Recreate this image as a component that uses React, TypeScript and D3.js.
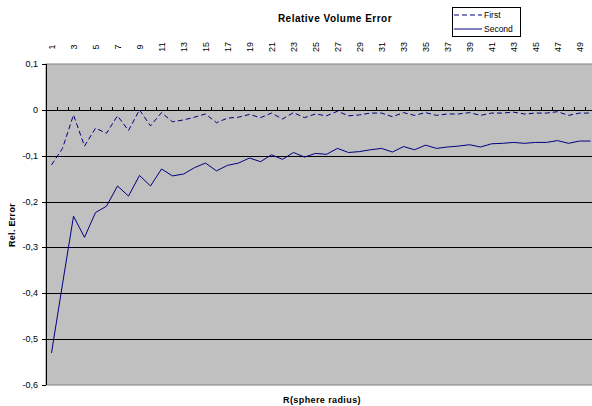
import React from "react";
import * as d3 from "d3";

const categories: number[] = d3.range(1, 51);
const firstValues: number[] = [
  -0.12, -0.084, -0.011, -0.079, -0.04, -0.051, -0.013, -0.045, 0.0, -0.035,
  -0.006, -0.026, -0.022, -0.016, -0.009, -0.028, -0.018, -0.016, -0.01, -0.017,
  -0.007, -0.02, -0.006, -0.017, -0.009, -0.013, -0.003, -0.013, -0.011, -0.007,
  -0.007, -0.015, -0.006, -0.012, -0.006, -0.012, -0.009, -0.009, -0.006, -0.012,
  -0.007, -0.007, -0.005, -0.009, -0.007, -0.007, -0.004, -0.012, -0.007, -0.007,
];
const secondValues: number[] = [
  -0.53, -0.38, -0.232, -0.278, -0.224, -0.21, -0.166, -0.188, -0.143, -0.166,
  -0.129, -0.144, -0.14, -0.126, -0.116, -0.133, -0.121, -0.116, -0.105, -0.113,
  -0.098, -0.108, -0.093, -0.103, -0.095, -0.097, -0.084, -0.093, -0.091, -0.087,
  -0.084, -0.092, -0.08, -0.087, -0.077, -0.084, -0.081, -0.079, -0.076, -0.081,
  -0.074, -0.073, -0.071, -0.073, -0.071, -0.071, -0.067, -0.073, -0.068, -0.068,
];
const yTicks: number[] = [0.1, 0, -0.1, -0.2, -0.3, -0.4, -0.5, -0.6];
const seriesNames: string[] = ["First", "Second"];

const W = 592;
const H = 406;
const left = 46;
const right = 596;
const top = 64;
const bottom = 385;
const font = "Liberation Sans, Arial, sans-serif";
const navy = "#000080";

export default function App() {
  const x = d3.scaleBand<number>().domain(categories).range([left, right]).padding(0);
  const y = d3.scaleLinear().domain([-0.6, 0.1]).range([bottom, top]);
  const cx = (c: number) => (x(c) as number) + x.bandwidth() / 2;
  const line = d3
    .line<number>()
    .x((_, i) => cx(categories[i]))
    .y((v) => y(v));
  const fmt = (v: number) => (v === 0 ? "0" : d3.format(".1f")(v).replace(".", ",").replace("−", "-"));
  const y0 = y(0);

  return (
    <svg width={W} height={H} style={{ position: "absolute", left: 0, top: 0, display: "block" }}>
      <rect x={0} y={0} width={W} height={H} fill="#fff" />
      <rect x={left} y={top} width={right - left} height={bottom - top} fill="#C0C0C0" stroke="#808080" strokeWidth={1} />
      {yTicks
        .filter((t) => t < 0.1 && t > -0.6 && t !== 0)
        .map((t) => (
          <line key={"g" + t} x1={left} x2={right} y1={Math.round(y(t)) + 0.5} y2={Math.round(y(t)) + 0.5} stroke="#000" strokeWidth={1} />
        ))}
      {/* y axis */}
      <line x1={left + 0.5} x2={left + 0.5} y1={top} y2={bottom} stroke="#000" strokeWidth={1} />
      {yTicks.map((t) => (
        <g key={"yt" + t}>
          <line x1={left - 4} x2={left} y1={Math.round(y(t)) + 0.5} y2={Math.round(y(t)) + 0.5} stroke="#000" />
          <text x={38} y={y(t)} textAnchor="end" dominantBaseline="central" fontFamily={font} fontSize={9} fill="#000">
            {fmt(t)}
          </text>
        </g>
      ))}
      {/* category axis at 0 */}
      <line x1={left} x2={right} y1={Math.round(y0) + 0.5} y2={Math.round(y0) + 0.5} stroke="#000" strokeWidth={1} />
      {categories.map((c) => (
        <line key={"xt" + c} x1={(x(c) as number) + x.bandwidth() + 0.5} x2={(x(c) as number) + x.bandwidth() + 0.5} y1={Math.round(y0) - 3} y2={Math.round(y0)} stroke="#000" strokeWidth={1} />
      ))}
      {categories
        .filter((c) => c % 2 === 1)
        .map((c) => (
          <text
            key={"xl" + c}
            transform={`translate(${cx(c) + 0.5},47) rotate(-90)`}
            textAnchor="middle"
            dominantBaseline="central"
            fontFamily={font}
            fontSize={9}
            fill="#000"
          >
            {c}
          </text>
        ))}
      {/* series */}
      <path d={line(firstValues) || ""} fill="none" stroke={navy} strokeWidth={1} strokeDasharray="5,3" />
      <path d={line(secondValues) || ""} fill="none" stroke={navy} strokeWidth={1} />
      {/* titles */}
      <text x={335} y={22} textAnchor="middle" fontFamily={font} fontSize={10} fontWeight="bold" letterSpacing={0.5}>
        Relative Volume Error
      </text>
      <text x={322} y={403} textAnchor="middle" fontFamily={font} fontSize={9} fontWeight="bold" letterSpacing={0.4}>
        R(sphere radius)
      </text>
      <text transform="translate(15,225) rotate(-90)" textAnchor="middle" fontFamily={font} fontSize={9} fontWeight="bold" letterSpacing={0.3}>
        Rel. Error
      </text>
      {/* legend */}
      <rect x={452.5} y={7.5} width={68} height={29} fill="#fff" stroke="#000" strokeWidth={1} />
      {seriesNames.map((n, i) => (
        <g key={n}>
          <line x1={454} x2={482} y1={15 + i * 14} y2={15 + i * 14} stroke={navy} strokeWidth={1} strokeDasharray={i === 0 ? "5,3" : undefined} />
          <text x={484} y={15 + i * 14} dominantBaseline="central" fontFamily={font} fontSize={8.5}>
            {n}
          </text>
        </g>
      ))}
    </svg>
  );
}
